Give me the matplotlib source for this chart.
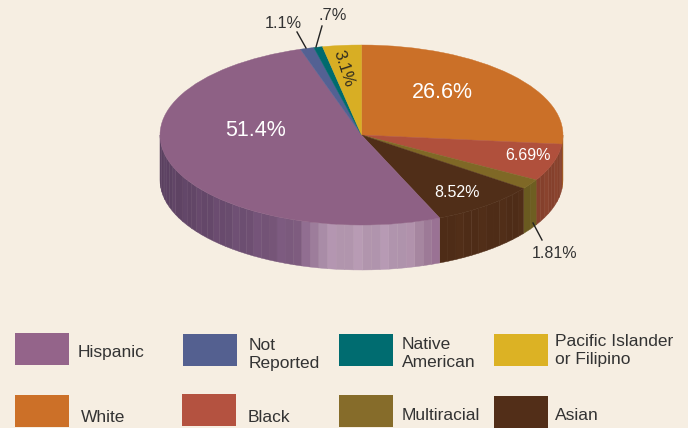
import numpy as np
import matplotlib
matplotlib.use("Agg")
import matplotlib.pyplot as plt
from matplotlib.colors import to_rgb
from matplotlib.patches import Rectangle

plt.rcParams['font.family'] = ['Liberation Sans', 'DejaVu Sans']

# clockwise from 12 o'clock
groups = ["White", "Black", "Multiracial", "Asian", "Hispanic",
          "Not Reported", "Native American", "Pacific Islander or Filipino"]
shares = [26.6, 6.69, 1.81, 8.52, 51.4, 1.1, 0.7, 3.1]
share_labels = ["26.6%", "6.69%", "1.81%", "8.52%", "51.4%", "1.1%", ".7%", "3.1%"]
top_colors = ["#cb7028", "#b0503c", "#7f6826", "#502e18", "#8e6185", "#536193", "#006a6e", "#d8ae24"]
side_colors = ["#a05a20", "#85402c", "#6a5a20", "#4e2c17", "#7a5a7c", "#536193", "#006a6e", "#d8ae24"]

legend_names = ["Hispanic", "Not\nReported", "Native\nAmerican", "Pacific Islander\nor Filipino",
                "White", "Black", "Multiracial", "Asian"]
legend_colors = ["#94648a", "#546090", "#006c70", "#dcb224", "#cc7028", "#b45240", "#866c2a", "#522e18"]

bg = "#f6eee2"
W, H = 688, 428
cx, cy, rx, ry, depth = 361.5, 135, 201.5, 90, 45

fig = plt.figure(figsize=(W / 100, H / 100), dpi=100, facecolor=bg)

# pie axes: unit circle squashed into the ellipse
ax = fig.add_axes([0, 0, 1, 1])
ax.patch.set_alpha(0)

# side wall, front half only
ang = 90.0
for s, col, name in zip(shares, side_colors, groups):
    a0 = ang
    a1 = ang - s * 360 / sum(shares)
    ang = a1
    lo = max(a1, -180)
    hi = min(a0, 0)
    if hi <= lo:
        continue
    edges = np.linspace(hi, lo, max(2, int((hi - lo) / 2.5) + 1))
    base = np.array(to_rgb(col))
    for i in range(len(edges) - 1):
        t0, t1 = np.radians(edges[i]), np.radians(edges[i + 1])
        x0, x1 = np.cos(t0), np.cos(t1)
        y0, y1 = np.sin(t0), np.sin(t1)
        c = base.copy()
        if name == "Hispanic":
            px = cx + rx * (x0 + x1) / 2
            knots = [160, 250, 300, 320, 340, 400, 420, 441]
            for k, chan in enumerate(zip(*[to_rgb(v) for v in
                                           ["#5a4060", "#6e4f72", "#7f5d80", "#a88aa6",
                                            "#b195ad", "#b094ad", "#a5859f", "#8e6689"]])):
                c[k] = np.interp(px, knots, chan)
        c = np.clip(c * (1.04 if i % 3 == 0 else 1.0), 0, 1)
        d = depth / ry
        ax.fill([x0, x1, x1, x0], [y0, y1, y1 - d, y0 - d], color=c, lw=0.3, zorder=1)

wedges, _ = ax.pie(shares, colors=top_colors, startangle=90, counterclock=False,
                   wedgeprops=dict(lw=0.3))
for w, col in zip(wedges, top_colors):
    w.set_edgecolor(col)
    w.set_zorder(2)

# pixel limits mapped to data units
ax.set_aspect('auto')
ax.set_xlim((0 - cx) / rx, (W - cx) / rx)
ax.set_ylim((cy - H) / ry, (cy - 0) / ry)
ax.axis('off')

# overlay in pixel coords for text and legend
ov = fig.add_axes([0, 0, 1, 1])
ov.set_xlim(0, W)
ov.set_ylim(H, 0)
ov.axis('off')
ov.patch.set_alpha(0)

lab = dict(zip(groups, share_labels))
ov.text(256, 130, lab["Hispanic"], color="white", fontsize=15.5, ha='center', va='center')
ov.text(442, 92, lab["White"], color="white", fontsize=15.5, ha='center', va='center')
ov.text(528, 155, lab["Black"], color="white", fontsize=11.5, ha='center', va='center')
ov.text(457, 192, lab["Asian"], color="white", fontsize=11.5, ha='center', va='center')
ov.text(343, 69, lab["Pacific Islander or Filipino"], color="#2e2a20", fontsize=12,
        rotation=-72, ha='center', va='center')
ov.text(283, 23, lab["Not Reported"], color="#333333", fontsize=11.8, ha='center', va='center')
ov.text(333, 15, lab["Native American"], color="#333333", fontsize=11.8, ha='center', va='center')
ov.text(555, 253, lab["Multiracial"], color="#333333", fontsize=11.5, ha='center', va='center')

ov.plot([297, 306], [32, 48], color="#222222", lw=1)
ov.plot([322, 316], [26, 47], color="#222222", lw=1)
ov.plot([533, 542], [223, 240], color="#222222", lw=1)

# legend
swatch_x = [15, 183, 339, 494, 15, 182, 339, 494]
swatch_y = [333, 334, 334, 334, 395, 394, 395, 396]
text_x = [78, 249, 402, 555, 81, 248, 402, 555]
text_y = [352.5, 354.5, 353.5, 350.5, 418, 417, 415, 415]
for i, name in enumerate(legend_names):
    ov.add_patch(Rectangle((swatch_x[i], swatch_y[i]), 54, 32, color=legend_colors[i], lw=0))
    ov.text(text_x[i], text_y[i], name, color="#333333", fontsize=12.5,
            ha='left', va='center', linespacing=1.27)

fig.savefig("out.png", dpi=100, facecolor=bg)
